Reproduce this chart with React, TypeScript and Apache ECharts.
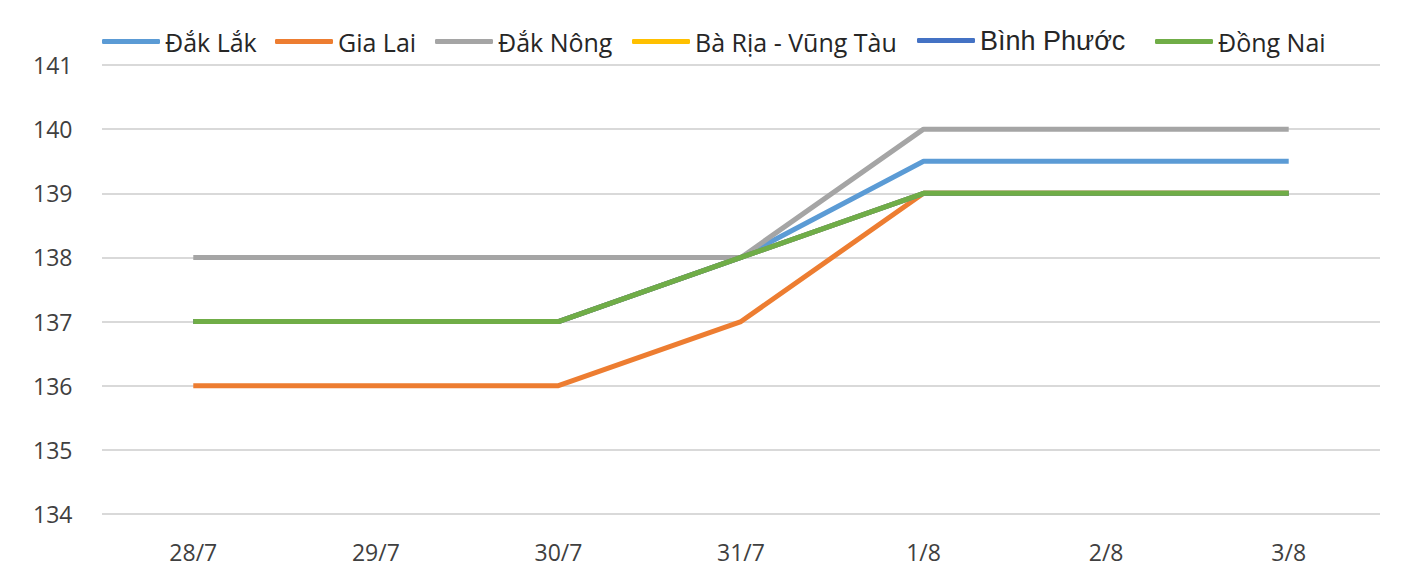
import React, { useEffect, useRef } from "react";
import * as echarts from "echarts";

const categories = ["28/7", "29/7", "30/7", "31/7", "1/8", "2/8", "3/8"];
const seriesNames = ["Đắk Lắk", "Gia Lai", "Đắk Nông", "Bà Rịa - Vũng Tàu", "Bình Phước", "Đồng Nai"];
const dakLak = [137, 137, 137, 138, 139.5, 139.5, 139.5];
const giaLai = [136, 136, 136, 137, 139, 139, 139];
const dakNong = [138, 138, 138, 138, 140, 140, 140];
const baRiaVungTau = [137, 137, 137, 138, 139, 139, 139];
const binhPhuoc = [137, 137, 137, 138, 139, 139, 139];
const dongNai = [137, 137, 137, 138, 139, 139, 139];
const colors = ["#5B9BD5", "#ED7D31", "#A5A5A5", "#FFC000", "#4472C4", "#70AD47"];
const legendLefts = [102, 275, 435, 632, 917, 1155];

const FONT = "'Open Sans', 'Noto Sans', sans-serif";

export default function App() {
  const ref = useRef<HTMLDivElement>(null);
  useEffect(() => {
    document.body.style.margin = "0";
    const chart = echarts.init(ref.current!, null, { renderer: "svg" });
    const values = [dakLak, giaLai, dakNong, baRiaVungTau, binhPhuoc, dongNai];
    chart.setOption({
      animation: false,
      backgroundColor: "#ffffff",
      color: colors,
      legend: seriesNames.map((name, i) => ({
        data: [name],
        left: legendLefts[i],
        top: i === 4 ? 27 : 29,
        icon: "roundRect",
        itemWidth: 58,
        itemHeight: 5,
        itemGap: 0,
        padding: 0,
        textStyle: {
          fontFamily: i === 4 ? "'Liberation Sans', Arial, sans-serif" : FONT,
          fontSize: i === 4 ? 27 : 25,
          color: "#262626",
        },
      })),
      grid: { left: 102, right: 46, top: 65, bottom: 70, containLabel: false },
      xAxis: {
        type: "category",
        data: categories,
        boundaryGap: true,
        axisLine: { show: false },
        axisTick: { show: false },
        axisLabel: { margin: 26, fontFamily: FONT, fontSize: 23, color: "#404040" },
      },
      yAxis: {
        type: "value",
        min: 134,
        max: 141,
        interval: 1,
        axisLine: { show: false },
        axisTick: { show: false },
        axisLabel: { margin: 69, align: "left", fontFamily: FONT, fontSize: 23, color: "#404040" },
        splitLine: { show: true, lineStyle: { color: "#d9d9d9", width: 2 } },
      },
      series: seriesNames.map((name, i) => ({
        name,
        type: "line",
        data: values[i],
        symbol: "none",
        lineStyle: { width: 5, color: colors[i] },
        itemStyle: { color: colors[i] },
      })),
    });
    return () => chart.dispose();
  }, []);
  return (
    <div
      ref={ref}
      style={{ position: "fixed", left: 0, top: 0, width: 1426, height: 584 }}
    />
  );
}
